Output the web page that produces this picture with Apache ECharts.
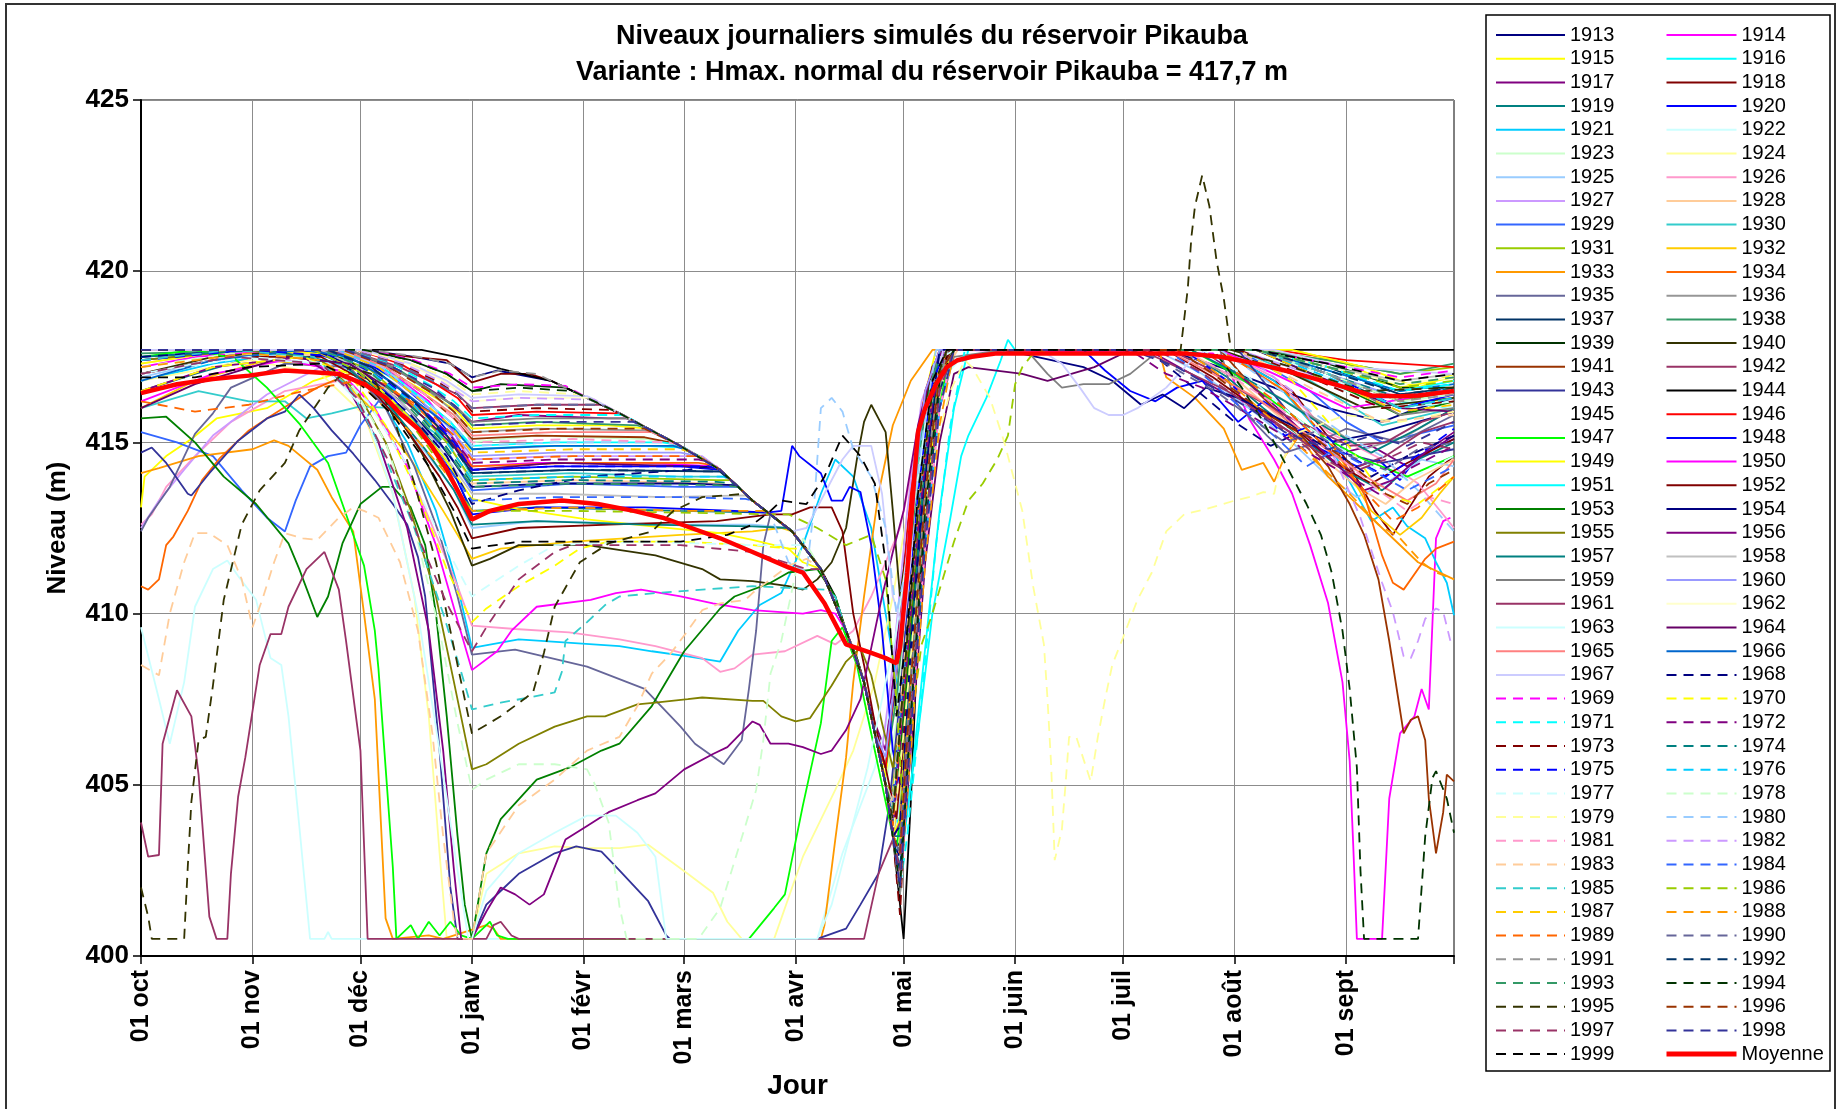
<!DOCTYPE html>
<html><head><meta charset="utf-8">
<script src="https://cdn.jsdelivr.net/npm/echarts@6/dist/echarts.min.js"></script>
<style>html,body{margin:0;padding:0;background:#fff}#c{width:1839px;height:1109px}</style>
</head><body><div id="c"></div>
<script>
// ---- tick labels / categories ----
const monthNames = ['oct','nov','déc','janv','févr','mars','avr','mai','juin','juil','août','sept'];
const monthDays = [31,30,31,31,28,31,30,31,30,31,31,30];
const yTicks = [400,405,410,415,420,425];
const yearNames = [];
for (let y = 1913; y <= 1999; y++) yearNames.push(String(y));

// ---- series values: [day index from 1 Oct, level (m)] ----
const y1913 = [[0,417.7],[62,417.7],[76,417.5],[86,417.3],[92,416.9],[99,417.1],[114,416.8],[133,415.85],[149,414.95],[161,414.2],[170,413.3],[181,412.4],[189,411.3],[196,409.5],[201,408.0],[204,406.5],[207,405.0],[209,403.8],[211,406.5],[214,411.5],[218,415.5],[222,417.7],[285,417.7],[300,417.2],[315,416.6],[330,416.0],[345,415.6],[355,416.0],[365,416.3]];
const y1914 = [[0,417.2],[15,417.5],[40,417.7],[58,417.6],[70,417.0],[80,416.2],[87,415.3],[92,414.3],[110,414.4],[140,414.4],[160,414.3],[161,414.2],[170,413.3],[181,412.4],[189,411.3],[196,409.5],[201,408.0],[204,406.5],[207,405.0],[209,404.2],[212,407.5],[215,412],[219,415.5],[224,417.7],[298,417.6],[303,417.0],[308,415.7],[315,414.5],[320,413.5],[325,412.0],[330,410.3],[334,408.0],[336,405.7],[337,403.2],[338,400.5],[345,400.5],[347,404.6],[350,406.5],[354,407.0],[356,407.8],[358,407.2],[360,412.2],[362,412.7],[364,412.8]];
const y1915 = [[0,413.1],[1,414.0],[7,414.6],[14,415.1],[21,415.7],[35,416.0],[48,416.8],[60,417.2],[72,416.9],[82,416.3],[88,415.9],[92,415.4],[110,415.5],[130,415.5],[141,415.4],[149,414.95],[161,414.2],[170,413.3],[181,412.4],[189,411.3],[196,409.5],[201,408.0],[204,406.5],[207,405.2],[210,408.0],[213,412.5],[217,416.0],[221,417.7],[320,417.7],[335,417.3],[350,416.6],[365,416.9]];
const y1916 = [[0,417.7],[50,417.7],[65,417.2],[78,416.3],[86,415.6],[92,414.8],[110,414.9],[140,414.9],[151,414.85],[161,414.2],[170,413.3],[181,412.4],[189,411.3],[196,409.5],[201,408.0],[204,406.5],[208,404.5],[212,403.5],[216,406.5],[220,410.0],[225,412.8],[228,414.6],[230,415.2],[235,416.3],[239,417.4],[241,418.0],[243,417.7],[310,417.7],[330,417.0],[350,416.2],[365,416.0]];
const y1917 = [[0,417.0],[20,417.4],[45,417.7],[62,417.5],[75,416.9],[84,416.3],[92,415.6],[105,415.8],[130,415.7],[135,415.7],[141,415.4],[149,414.95],[161,414.2],[170,413.3],[181,412.4],[189,411.3],[196,409.5],[201,408.0],[204,406.8],[207,406.0],[210,409],[214,413.5],[219,416.8],[224,417.7],[280,417.7],[292,417.0],[305,416.2],[318,415.4],[330,414.6],[342,414.9],[352,414.3],[365,415.2]];
const y1918 = [[0,417.7],[60,417.7],[75,417.5],[85,417.4],[92,416.75],[100,417.0],[108,417.0],[114,416.8],[133,415.85],[149,414.95],[161,414.2],[170,413.3],[181,412.4],[189,411.3],[196,409.5],[201,408.0],[204,406.5],[207,405.0],[209,403.5],[211,402.5],[214,408],[217,413],[221,417.0],[225,417.7],[300,417.7],[320,416.5],[335,414.5],[343,413.0],[348,412.3],[352,413.0],[358,414.0],[365,414.6]];
const y1919 = [[0,416.5],[15,417.0],[35,417.6],[55,417.3],[68,416.4],[78,415.4],[86,414.3],[92,413.0],[110,413.1],[150,413.0],[174,412.95],[181,412.4],[189,411.3],[196,409.5],[201,408.0],[204,406.5],[207,405.0],[209,404.5],[212,408.5],[216,413.5],[220,416.5],[224,417.7],[290,417.7],[302,416.9],[312,416.0],[322,415.2],[334,414.2],[345,413.6],[355,414.5],[365,415.0]];
const y1920 = [[0,417.5],[30,417.7],[58,417.6],[70,416.9],[80,416.0],[87,415.1],[92,414.2],[115,414.3],[150,414.3],[161,414.2],[170,413.3],[181,412.4],[189,411.3],[196,409.5],[201,408.0],[204,406.5],[207,405.5],[210,408.2],[213,412],[217,415.5],[222,417.7],[262,417.7],[268,417.1],[275,416.5],[282,416.2],[288,416.6],[295,416.8],[305,415.6],[312,416.2],[318,415.8],[324,415.0],[332,414.6],[338,414.3],[344,414.5],[350,413.9],[355,414.6],[365,415.1]];
const y1921 = [[0,416.8],[20,417.3],[40,417.6],[55,417.3],[65,416.5],[74,415.0],[82,413.0],[88,410.8],[92,409.0],[105,409.25],[133,409.05],[142,408.9],[152,408.75],[161,408.6],[166,409.5],[172,410.25],[178,410.6],[184,412.0],[189,413.5],[193,414.5],[198,414.0],[203,412.5],[207,410.0],[211,407.5],[214,411],[218,415],[223,417.7],[300,417.7],[315,416.8],[330,415.0],[342,412.7],[348,413.1],[352,412.55],[357,412.2],[360,411.5],[363,410.9],[365,409.95]];
const y1922 = [[0,409.6],[5,407.5],[8,406.2],[12,408.0],[15,410.2],[20,411.3],[24,411.55],[27,411.1],[32,410.4],[36,408.7],[39,408.5],[41,407.0],[44,403.8],[47,400.5],[51,400.5],[52,400.7],[53,400.5],[188,400.5],[195,403.0],[204,405.5],[209,407.5],[213,411.0],[218,414.5],[224,417.0],[230,417.7],[310,417.7],[335,416.5],[365,416.0]];
const y1923 = [[0,417.7],[55,417.7],[68,417.2],[79,416.4],[87,415.8],[92,415.0],[110,415.2],[140,415.1],[148,414.95],[155,414.6],[161,414.2],[170,413.3],[181,412.4],[189,411.3],[196,409.5],[201,408.0],[204,406.5],[207,405.0],[210,406.8],[214,411.5],[218,415.5],[223,417.7],[310,417.7],[330,417.2],[350,416.8],[365,417.0]];
const y1924 = [[0,416.8],[30,417.4],[50,417.0],[62,415.8],[70,413.5],[76,410.5],[80,407],[83,403],[85,400.5],[92,400.5],[96,402.4],[105,403.0],[115,403.2],[124,403.15],[133,403.15],[141,403.25],[152,402.4],[159,401.85],[163,401.0],[167,400.5],[176,400.5],[184,402.9],[193,404.85],[198,406.0],[204,408.0],[209,410.5],[214,413.5],[219,416.0],[225,417.7],[310,417.7],[330,416.8],[350,416.0],[365,416.3]];
const y1925 = [[0,416.9],[20,417.4],[45,417.6],[58,417.1],[70,415.9],[80,414.6],[87,413.6],[92,412.5],[110,412.7],[150,412.6],[170,412.6],[180,412.5],[185,411.9],[189,411.3],[196,409.5],[201,408.0],[204,406.5],[207,405.0],[209,403.5],[211,404.5],[214,409.5],[218,414.5],[223,417.7],[282,417.7],[295,417.0],[308,416.0],[320,415.0],[330,414.0],[338,413.4],[346,413.8],[356,414.5],[365,414.3]];
const y1926 = [[0,412.6],[3,412.9],[7,413.7],[15,414.6],[25,415.6],[40,416.5],[55,416.8],[65,415.9],[74,414.3],[82,412.3],[88,410.8],[92,409.65],[104,409.55],[119,409.45],[133,409.25],[143,409.05],[156,408.7],[161,408.3],[165,408.4],[170,408.8],[179,408.9],[188,409.35],[193,409.1],[198,409.5],[203,410.5],[207,411.5],[211,412.5],[215,414.5],[219,416.5],[224,417.7],[300,417.7],[315,416.9],[330,415.3],[345,414.5],[355,413.8],[365,412.5]];
const y1927 = [[0,412.5],[5,413.3],[12,414.2],[20,415.2],[35,416.4],[50,417.2],[62,417.3],[72,416.6],[82,415.6],[88,415.0],[92,414.5],[115,414.6],[150,414.6],[156,414.6],[161,414.2],[170,413.3],[181,412.4],[189,411.3],[196,409.5],[201,408.0],[204,406.5],[206,406.0],[209,408.5],[213,413],[217,416.2],[222,417.7],[305,417.7],[325,417.0],[345,416.3],[365,416.5]];
const y1928 = [[0,417.3],[25,417.7],[55,417.5],[67,416.7],[78,415.8],[86,414.9],[92,413.8],[120,413.9],[160,413.8],[166,413.7],[170,413.3],[181,412.4],[189,411.3],[196,409.5],[201,408.0],[204,406.5],[207,405.0],[209,403.5],[211,402.0],[214,408],[218,413.5],[223,417.0],[227,417.7],[290,417.7],[305,416.8],[318,415.6],[328,414.6],[338,413.7],[346,413.2],[354,413.9],[365,414.5]];
const y1929 = [[0,415.3],[10,415.0],[20,414.6],[28,413.6],[35,412.8],[40,412.4],[43,413.3],[47,414.3],[52,414.6],[57,414.7],[61,415.5],[66,416.2],[72,416.0],[80,415.3],[86,414.6],[92,413.6],[120,413.8],[150,413.7],[166,413.7],[170,413.3],[181,412.4],[189,411.3],[196,409.5],[201,408.0],[204,406.5],[207,405.0],[209,404.0],[212,407.5],[216,412.5],[220,416.0],[225,417.7],[305,417.7],[325,416.5],[335,415.6],[345,415.0],[365,415.5]];
const y1930 = [[0,416.0],[16,416.5],[30,416.2],[40,416.2],[46,415.7],[53,415.85],[61,416.05],[70,416.0],[80,415.4],[87,414.9],[92,414.0],[120,414.1],[150,414.0],[163,414.0],[166,413.7],[170,413.3],[181,412.4],[189,411.3],[196,409.5],[201,408.0],[204,406.5],[207,405.5],[210,408.5],[214,413],[218,416],[222,417.7],[305,417.7],[325,416.8],[345,415.5],[365,416.0]];
const y1931 = [[0,417.7],[50,417.7],[64,417.1],[76,416.0],[85,415.0],[92,413.9],[120,414.0],[160,413.9],[164,413.9],[166,413.7],[170,413.3],[181,412.4],[189,411.3],[196,409.5],[201,408.0],[204,406.5],[207,405.0],[209,404.8],[212,408.5],[216,413],[220,416.2],[224,417.7],[310,417.7],[330,417.4],[350,417.0],[365,417.2]];
const y1932 = [[0,416.0],[15,416.8],[35,417.4],[52,417.2],[64,416.0],[75,414.5],[84,413.0],[92,411.6],[100,411.9],[120,412.1],[150,412.3],[170,412.4],[178,412.5],[181,412.4],[189,411.3],[196,409.5],[201,408.0],[204,406.5],[207,405.0],[209,403.5],[211,405.0],[214,410],[218,414.5],[223,417.7],[300,417.7],[318,416.5],[332,414.8],[342,413.0],[350,412.3],[356,412.8],[361,413.5],[365,414.0]];
const y1933 = [[0,414.1],[5,414.25],[16,414.6],[31,414.8],[37,415.06],[41,414.9],[49,414.2],[53,413.4],[59,412.4],[62,410.0],[65,407.5],[68,401.1],[70,400.5],[80,400.6],[84,400.5],[96,400.9],[98,400.8],[100,400.5],[189,400.5],[190,400.9],[193,403.4],[196,405.8],[198,408.0],[201,410.5],[205,413.5],[209,415.5],[214,416.8],[220,417.7],[283,417.7],[285,416.9],[293,416.3],[301,415.4],[306,414.2],[312,414.4],[315,413.85],[318,414.6],[322,415.2],[330,414.0],[345,412.5],[355,411.5],[365,411.0]];
const y1934 = [[0,410.8],[2,410.7],[5,411.0],[7,412.0],[9,412.25],[13,413.0],[17,413.9],[22,414.55],[30,415.35],[35,415.7],[44,416.3],[49,416.6],[58,417.0],[68,416.7],[78,415.9],[86,415.1],[92,414.3],[120,414.4],[155,414.4],[158,414.35],[161,414.2],[170,413.3],[181,412.4],[189,411.3],[196,409.5],[201,408.0],[204,406.5],[207,405.0],[209,403.5],[211,403.0],[214,408],[218,413.5],[222,416.8],[226,417.7],[300,417.7],[318,416.5],[332,414.8],[340,413.5],[345,411.7],[348,410.9],[351,410.7],[357,411.6],[360,411.9],[365,412.1]];
const y1935 = [[0,412.4],[2,412.8],[8,413.7],[15,415.25],[20,415.85],[25,416.6],[40,417.3],[58,417.2],[68,416.0],[76,414.3],[83,412.3],[88,410.5],[92,408.8],[104,408.95],[124,408.45],[140,407.8],[150,406.7],[154,406.2],[162,405.6],[167,406.3],[169,407.8],[171,409.5],[173,412.0],[175,412.9],[181,412.4],[189,411.3],[196,409.5],[201,408.0],[204,406.5],[207,405.0],[209,404.0],[212,408],[216,413],[221,416.5],[226,417.7],[300,417.7],[304,416.2],[313,415.2],[318,414.7],[327,415.0],[335,415.4],[350,415.0],[365,415.8]];
const y1936 = [[0,417.7],[58,417.7],[70,417.2],[80,416.5],[87,415.9],[92,415.3],[110,415.4],[140,415.35],[142,415.3],[149,414.95],[161,414.2],[170,413.3],[181,412.4],[189,411.3],[196,409.5],[201,408.0],[204,406.5],[207,405.0],[209,403.5],[211,402.0],[213,406],[216,411.5],[220,415.5],[224,417.7],[288,417.7],[300,417.1],[315,416.4],[328,415.6],[340,414.8],[352,415.2],[365,416.0]];
const y1937 = [[0,417.7],[52,417.7],[64,417.2],[75,416.3],[85,415.2],[92,414.1],[120,414.2],[161,414.15],[166,413.7],[170,413.3],[181,412.4],[189,411.3],[196,409.5],[201,408.0],[204,406.5],[207,405.0],[209,403.5],[211,403.2],[214,408.5],[218,414],[222,417.2],[226,417.7],[310,417.7],[330,417.2],[350,416.4],[365,416.6]];
const y1938 = [[0,417.6],[40,417.7],[60,417.6],[72,417.1],[82,416.4],[88,416.0],[92,415.5],[110,415.6],[138,415.5],[141,415.4],[149,414.95],[161,414.2],[170,413.3],[181,412.4],[189,411.3],[196,409.5],[201,408.0],[204,406.5],[207,405.5],[210,407.5],[214,412],[218,416],[222,417.7],[310,417.7],[330,417.4],[350,417.0],[365,417.3]];
const y1939 = [[0,417.7],[62,417.7],[75,417.4],[85,417.0],[92,416.5],[100,416.7],[118,416.6],[125,416.25],[133,415.85],[149,414.95],[161,414.2],[170,413.3],[181,412.4],[189,411.3],[196,409.5],[201,408.0],[204,406.5],[207,405.0],[209,403.5],[211,401.8],[213,405.5],[216,411],[220,415.8],[224,417.7],[310,417.7],[330,417.3],[350,416.6],[365,416.6]];
const y1940 = [[0,417.0],[20,417.5],[45,417.7],[58,417.4],[68,416.3],[78,414.7],[86,413.0],[92,411.4],[97,411.6],[105,412.0],[124,412.0],[143,411.7],[156,411.3],[161,411.0],[170,410.95],[180,410.8],[184,410.7],[188,411.0],[192,411.5],[196,412.5],[199,414.5],[201,415.6],[203,416.1],[205,415.7],[207,415.3],[209,413.0],[211,410.5],[213,412],[216,415],[220,417.2],[223,417.7],[300,417.7],[320,417.0],[340,416.0],[365,416.3]];
const y1941 = [[0,417.7],[55,417.7],[68,417.2],[79,416.4],[87,415.7],[92,415.1],[110,415.2],[140,415.15],[147,415.0],[149,414.95],[161,414.2],[170,413.3],[181,412.4],[189,411.3],[196,409.5],[201,408.0],[204,406.5],[207,405.0],[209,403.5],[211,402.5],[214,407.5],[218,413.5],[222,417.0],[226,417.7],[300,417.7],[310,416.5],[320,415.5],[330,414.3],[336,413.2],[340,412.3],[344,411.0],[347,409.2],[351,406.5],[353,406.9],[355,407.0],[357,406.3],[358,404.6],[360,403.0],[362,404.2],[363,405.3],[365,405.1]];
const y1942 = [[0,417.4],[30,417.7],[60,417.6],[72,417.2],[82,416.7],[88,416.4],[92,416.0],[110,416.1],[128,416.1],[130,416.0],[133,415.85],[141,415.4],[149,414.95],[161,414.2],[170,413.3],[181,412.4],[189,411.3],[196,409.5],[201,408.0],[204,406.5],[207,405.0],[209,404.0],[212,407.5],[216,413],[220,416.5],[224,417.7],[278,417.7],[290,417.1],[302,416.5],[314,415.7],[326,414.8],[336,414.2],[346,414.6],[356,415.3],[365,415.6]];
const y1943 = [[0,414.7],[3,414.85],[7,414.4],[13,413.5],[14,413.45],[19,414.1],[27,415.05],[35,415.7],[40,415.9],[44,416.4],[48,416.0],[53,415.35],[59,414.67],[65,413.9],[70,413.2],[74,412.6],[77,411.65],[79,410.5],[83,406.0],[86,402.0],[88,400.5],[92,400.5],[96,401.5],[101,402.0],[105,402.4],[115,403.0],[121,403.2],[128,403.05],[133,402.5],[141,401.6],[146,400.6],[147,400.5],[188,400.5],[196,400.8],[200,401.5],[205,402.4],[208,404.4],[211,407.5],[214,411.5],[218,415],[223,417.7],[305,417.7],[318,416.0],[330,414.8],[345,414.4],[365,414.8]];
const y1944 = [[0,417.7],[78,417.7],[90,417.45],[100,417.15],[114,416.8],[125,416.25],[133,415.85],[141,415.4],[149,414.95],[155,414.6],[161,414.2],[166,413.7],[170,413.3],[175,412.9],[181,412.4],[185,411.9],[189,411.3],[193,410.5],[196,409.5],[199,408.7],[201,408.0],[204,406.5],[207,405.0],[209,403.5],[211,401.5],[212,400.5],[214,404.5],[216,409.5],[219,414.5],[222,417.0],[225,417.7],[365,417.7]];
const y1945 = [];
const y1946 = [[0,417.7],[60,417.7],[72,417.3],[82,416.7],[88,416.3],[92,415.8],[110,415.9],[132,415.85],[134,415.8],[141,415.4],[149,414.95],[161,414.2],[170,413.3],[181,412.4],[189,411.3],[196,409.5],[201,408.0],[204,406.5],[207,405.5],[210,408.5],[214,413.5],[218,416.5],[222,417.7],[315,417.7],[335,417.4],[365,417.2]];
const y1947 = [[0,417.5],[15,417.7],[26,417.45],[35,416.6],[44,415.55],[52,414.4],[58,412.6],[62,411.4],[65,409.5],[66,408.4],[68,405.5],[70,402.6],[71,400.5],[75,400.9],[77,400.5],[80,401.0],[83,400.6],[86,401.0],[89,400.6],[92,400.5],[95,400.8],[97,401.0],[99,400.6],[102,400.5],[169,400.5],[176,401.4],[179,401.8],[184,404.4],[189,406.8],[192,409.2],[195,409.6],[199,408.5],[203,406.5],[207,404.5],[210,403.0],[213,406.5],[217,411.5],[221,415.5],[225,417.7],[292,417.7],[304,417.0],[316,416.1],[328,415.2],[340,414.5],[352,414.0],[365,414.6]];
const y1948 = [[0,417.7],[45,417.7],[58,417.3],[70,416.3],[81,414.9],[88,413.9],[92,412.9],[110,413.1],[140,413.1],[165,413.0],[174,412.95],[178,413.0],[181,414.9],[183,414.6],[189,414.1],[192,413.3],[195,413.3],[197,413.7],[200,413.55],[203,412.0],[206,409.5],[209,406.0],[211,405.0],[214,409.5],[218,414],[222,417.0],[226,417.7],[310,417.7],[330,417.0],[350,416.0],[365,416.4]];
const y1949 = [[0,417.3],[25,417.7],[50,417.6],[62,417.0],[74,415.8],[84,414.6],[92,413.35],[105,413.05],[124,412.75],[142,412.55],[161,412.35],[170,412.15],[180,411.9],[184,411.5],[189,411.3],[196,409.5],[201,408.0],[204,406.5],[207,405.0],[209,403.5],[211,404.0],[214,409.5],[218,414.5],[222,417.7],[320,417.7],[340,417.2],[355,416.6],[365,417.0]];
const y1950 = [[0,416.2],[20,417.0],[40,417.4],[55,417.1],[65,416.0],[74,414.3],[82,412.0],[88,409.8],[92,408.35],[99,408.9],[103,409.5],[110,410.2],[125,410.4],[132,410.6],[139,410.7],[150,410.5],[159,410.3],[170,410.1],[184,410.0],[189,410.1],[193,410.0],[196,409.5],[199,408.7],[201,408.0],[204,406.5],[207,405.0],[209,404.2],[212,407.5],[215,411.5],[219,415.5],[223,417.7],[300,417.7],[315,417.0],[335,416.0],[365,416.5]];
const y1951 = [[0,417.7],[55,417.7],[67,417.2],[78,416.3],[86,415.6],[92,414.9],[115,415.0],[145,415.0],[148,414.95],[155,414.6],[161,414.2],[170,413.3],[181,412.4],[189,411.3],[196,409.5],[201,408.0],[204,406.5],[207,405.0],[209,403.5],[211,402.5],[214,405],[218,409],[222,413],[226,416],[230,417.7],[310,417.7],[330,417.1],[350,416.5],[365,416.8]];
const y1952 = [[0,417.0],[25,417.5],[50,417.5],[62,416.8],[73,415.5],[83,414.0],[88,413.1],[92,412.2],[105,412.5],[130,412.6],[160,412.7],[175,412.9],[181,412.9],[186,413.1],[192,413.1],[195,412.4],[198,410.0],[201,408.5],[204,406.8],[207,405.5],[210,404.0],[213,407.5],[217,412.5],[221,416.5],[225,417.7],[285,417.7],[298,416.9],[310,416.0],[322,415.3],[332,414.4],[342,413.8],[352,414.4],[365,415.1]];
const y1953 = [[0,415.7],[7,415.75],[15,415.0],[23,414.0],[32,413.2],[41,412.05],[44,411.3],[49,409.9],[52,410.5],[56,412.05],[61,413.2],[67,413.7],[70,413.7],[75,413.1],[79,412.0],[82,410.0],[85,407.0],[88,403.5],[90,401.5],[92,400.5],[96,403.0],[100,404.0],[110,405.15],[119,405.5],[128,406.0],[133,406.2],[142,407.3],[151,408.9],[161,410.15],[165,410.5],[175,410.9],[180,411.2],[188,411.3],[193,410.5],[196,409.5],[199,408.7],[201,408.0],[204,406.5],[207,405.0],[209,404.0],[212,407],[216,412],[220,416],[224,417.7],[310,417.7],[330,416.8],[350,415.8],[365,416.2]];
const y1954 = [[0,417.7],[48,417.7],[60,417.2],[72,416.2],[83,415.0],[92,413.7],[115,413.8],[150,413.8],[165,413.75],[166,413.7],[170,413.3],[181,412.4],[189,411.3],[196,409.5],[201,408.0],[204,406.5],[207,405.0],[209,403.5],[211,402.8],[214,408.5],[218,414],[222,417.7],[240,417.7],[262,417.2],[270,416.8],[278,416.1],[284,416.4],[290,416.0],[296,416.6],[305,416.3],[318,415.6],[330,415.0],[345,415.3],[365,415.9]];
const y1955 = [[0,417.4],[30,417.7],[50,417.4],[60,416.5],[68,415.0],[75,413.0],[82,410.5],[87,408.0],[92,405.45],[96,405.6],[105,406.2],[115,406.7],[124,407.0],[129,407.0],[138,407.35],[143,407.4],[152,407.5],[156,407.55],[170,407.45],[173,407.45],[178,407.0],[182,406.85],[186,406.95],[192,407.9],[196,408.6],[200,409.0],[203,408.2],[206,406.8],[209,405.5],[212,407.5],[216,412.5],[220,416.5],[224,417.7],[310,417.7],[330,417.0],[350,416.2],[365,416.5]];
const y1956 = [[0,416.5],[20,417.2],[45,417.5],[57,416.7],[66,415.0],[74,412.5],[80,409.5],[84,406.0],[87,402.5],[89,400.5],[92,400.5],[96,401.3],[100,402.0],[104,401.8],[108,401.5],[112,401.8],[118,403.4],[124,403.8],[130,404.2],[138,404.55],[143,404.75],[151,405.45],[159,405.9],[163,406.1],[170,406.85],[172,406.75],[175,406.2],[180,406.2],[184,406.1],[189,405.9],[192,406.0],[196,406.6],[200,407.5],[203,409.0],[206,410.5],[209,411.8],[212,413.0],[216,415.5],[220,417.2],[223,417.7],[295,417.7],[306,416.9],[316,416.0],[326,415.0],[334,414.2],[340,413.6],[348,413.9],[358,414.8],[365,415.3]];
const y1957 = [[0,417.5],[35,417.7],[56,417.3],[68,416.2],[79,414.8],[87,413.6],[92,412.6],[110,412.7],[140,412.6],[170,412.55],[180,412.5],[181,412.4],[189,411.3],[196,409.5],[201,408.0],[204,406.5],[207,405.0],[209,403.5],[211,403.5],[214,409],[218,414.5],[222,417.7],[292,417.7],[305,417.0],[318,416.2],[330,415.4],[342,414.7],[355,415.4],[365,416.0]];
const y1958 = [[0,417.7],[50,417.7],[62,417.1],[74,416.0],[84,414.7],[92,413.5],[115,413.5],[145,413.4],[168,413.45],[170,413.3],[181,412.4],[189,411.3],[196,409.5],[201,408.0],[204,406.5],[207,405.0],[209,404.3],[212,408],[216,413],[220,416.5],[224,417.7],[310,417.7],[330,417.2],[350,416.8],[365,417.0]];
const y1959 = [[0,417.7],[58,417.7],[70,417.2],[80,416.5],[87,416.1],[92,415.6],[110,415.7],[135,415.7],[137,415.6],[141,415.4],[149,414.95],[161,414.2],[170,413.3],[181,412.4],[189,411.3],[196,409.5],[201,408.0],[204,406.5],[207,405.0],[209,403.5],[211,402.2],[214,407],[218,412.5],[222,416],[226,417.5],[240,417.7],[247,417.6],[252,417.0],[256,416.6],[262,416.7],[269,416.7],[275,417.0],[282,417.6],[285,417.7],[310,417.7],[330,417.0],[350,415.8],[365,416.0]];
const y1960 = [[0,417.7],[54,417.7],[66,417.2],[77,416.3],[86,415.4],[92,414.6],[115,414.7],[150,414.7],[155,414.6],[161,414.2],[170,413.3],[181,412.4],[189,411.3],[196,409.5],[201,408.0],[204,406.5],[207,405.8],[210,408.5],[214,413],[218,416.5],[222,417.7],[310,417.7],[330,417.0],[350,416.3],[365,416.6]];
const y1961 = [[0,403.9],[2,402.9],[5,402.95],[6,406.2],[10,407.76],[14,407.0],[16,405.3],[19,401.15],[21,400.5],[24,400.5],[25,402.4],[27,404.65],[29,405.8],[33,408.5],[36,409.4],[39,409.4],[41,410.2],[46,411.3],[51,411.8],[55,410.7],[57,409.2],[61,406.0],[63,400.5],[96,400.5],[98,400.9],[100,401.0],[103,400.6],[105,400.5],[201,400.5],[205,402.4],[211,403.9],[214,408],[218,413.5],[222,417.0],[226,417.7],[286,417.7],[296,417.2],[306,416.5],[316,415.9],[326,415.4],[336,414.9],[346,415.0],[356,415.6],[365,415.9]];
const y1962 = [[0,417.7],[60,417.7],[74,417.3],[84,416.8],[92,416.2],[105,416.3],[125,416.3],[127,416.2],[133,415.85],[141,415.4],[149,414.95],[161,414.2],[170,413.3],[181,412.4],[189,411.3],[196,409.5],[201,408.0],[204,406.5],[207,405.0],[209,404.5],[212,408],[216,413],[220,416.5],[224,417.7],[310,417.7],[330,417.2],[350,416.7],[365,416.9]];
const y1963 = [[0,417.0],[25,417.5],[50,417.3],[62,416.0],[70,413.5],[77,410.0],[83,406.0],[88,402.5],[91,400.5],[92,400.5],[96,401.9],[105,403.0],[115,403.6],[124,404.1],[132,404.1],[138,403.6],[143,402.9],[146,400.5],[188,400.5],[192,401.5],[197,403.5],[202,405.5],[206,407.5],[210,409.5],[214,412.5],[218,415.5],[223,417.5],[226,417.7],[310,417.7],[330,416.9],[350,416.0],[365,416.2]];
const y1964 = [[0,416.0],[15,416.7],[40,417.5],[58,417.3],[70,416.5],[80,415.6],[87,414.9],[92,414.2],[115,414.4],[155,414.3],[160,414.25],[161,414.2],[170,413.3],[181,412.4],[189,411.3],[196,409.5],[201,408.0],[204,406.5],[207,405.0],[209,403.5],[211,402.0],[214,406],[218,411.5],[222,415],[226,417],[230,417.2],[245,417.0],[252,416.8],[265,417.2],[275,417.7],[310,417.7],[330,416.8],[350,416.0],[365,415.9]];
const y1965 = [[0,417.7],[56,417.7],[68,417.2],[79,416.4],[87,415.8],[92,415.2],[115,415.3],[142,415.3],[144,415.2],[149,414.95],[161,414.2],[170,413.3],[181,412.4],[189,411.3],[196,409.5],[201,408.0],[204,406.5],[207,405.0],[209,403.5],[211,403.0],[214,408],[218,413.5],[222,417.0],[226,417.7],[285,417.7],[298,417.0],[310,416.3],[322,415.4],[332,414.6],[342,413.9],[352,413.3],[360,413.8],[365,414.5]];
const y1966 = [[0,416.8],[20,417.4],[45,417.7],[58,417.5],[69,416.8],[79,416.0],[87,415.4],[92,414.8],[115,414.9],[148,414.9],[151,414.8],[155,414.6],[161,414.2],[170,413.3],[181,412.4],[189,411.3],[196,409.5],[201,408.0],[204,406.5],[207,405.0],[209,404.0],[212,408],[216,413],[220,416.5],[224,417.7],[310,417.7],[330,417.1],[350,416.5],[365,416.7]];
const y1967 = [[0,417.7],[62,417.7],[75,417.3],[85,416.8],[92,416.3],[105,416.4],[124,416.35],[126,416.25],[133,415.85],[141,415.4],[149,414.95],[161,414.2],[170,413.3],[181,412.4],[185,412.5],[190,413.5],[195,414.5],[198,414.9],[203,414.9],[206,413.5],[209,410.5],[212,409.5],[215,412.5],[219,416],[223,417.7],[250,417.7],[256,417.3],[261,416.6],[265,416.0],[269,415.8],[273,415.8],[277,416.0],[285,416.6],[292,417.4],[296,417.7],[315,417.7],[335,417.2],[365,417.0]];
const y1968 = [[0,417.5],[30,417.7],[52,417.5],[64,416.8],[75,415.8],[85,414.6],[92,413.2],[105,413.6],[124,414.0],[152,414.2],[158,414.3],[161,414.2],[170,413.3],[181,412.4],[189,411.3],[196,409.5],[201,408.0],[204,406.5],[207,405.0],[209,403.5],[211,403.8],[214,409],[218,414.5],[222,417.7],[280,417.7],[288,417.0],[296,416.3],[304,415.6],[314,414.9],[322,415.3],[332,414.7],[342,414.0],[352,414.6],[365,415.2]];
const y1969 = [[0,417.7],[64,417.7],[76,417.4],[86,417.0],[92,416.6],[105,416.7],[118,416.65],[125,416.25],[133,415.85],[141,415.4],[149,414.95],[161,414.2],[170,413.3],[181,412.4],[189,411.3],[196,409.5],[201,408.0],[204,406.5],[207,405.0],[209,403.5],[211,402.0],[214,406.5],[218,412],[222,416],[226,417.7],[310,417.7],[330,417.3],[350,416.9],[365,417.1]];
const y1970 = [[0,416.5],[20,417.2],[45,417.5],[58,417.0],[68,415.5],[77,413.5],[85,411.3],[92,409.75],[96,410.15],[105,410.8],[115,411.4],[122,411.9],[130,412.1],[150,412.1],[170,412.0],[180,411.9],[185,411.9],[189,411.3],[196,409.5],[201,408.0],[204,406.5],[207,405.0],[209,403.5],[211,402.5],[214,407.5],[218,413],[222,416.8],[226,417.7],[305,417.7],[320,416.8],[335,415.0],[345,413.5],[355,413.2],[365,414.0]];
const y1971 = [[0,417.7],[58,417.7],[70,417.3],[80,416.7],[87,416.2],[92,415.7],[110,415.8],[134,415.8],[136,415.7],[141,415.4],[149,414.95],[161,414.2],[170,413.3],[181,412.4],[189,411.3],[196,409.5],[201,408.0],[204,406.5],[207,405.0],[209,403.5],[211,402.0],[213,403.5],[217,407.5],[221,412.0],[225,415.5],[229,417.7],[310,417.7],[330,417.2],[350,416.5],[365,416.7]];
const y1972 = [[0,417.7],[52,417.7],[64,417.2],[76,416.2],[86,415.2],[92,414.4],[115,414.5],[155,414.5],[157,414.45],[161,414.2],[170,413.3],[181,412.4],[189,411.3],[196,409.5],[201,408.0],[204,406.5],[207,405.0],[209,403.6],[212,407.5],[216,412.5],[220,416.2],[224,417.7],[275,417.7],[285,417.0],[295,416.6],[305,416.0],[316,415.3],[326,414.6],[336,414.0],[344,413.5],[352,414.2],[365,414.9]];
const y1973 = [[0,417.7],[60,417.7],[72,417.3],[82,416.8],[88,416.4],[92,415.9],[110,416.0],[131,415.95],[133,415.85],[141,415.4],[149,414.95],[161,414.2],[170,413.3],[181,412.4],[189,411.3],[196,409.5],[201,408.0],[204,406.5],[207,405.0],[209,403.5],[211,401.2],[213,405.5],[216,411],[220,415.5],[224,417.7],[305,417.7],[325,416.9],[345,416.0],[365,416.2]];
const y1974 = [[0,417.7],[50,417.7],[62,417.2],[74,416.2],[84,415.0],[92,413.8],[120,413.9],[160,413.85],[165,413.8],[166,413.7],[170,413.3],[181,412.4],[189,411.3],[196,409.5],[201,408.0],[204,406.5],[207,405.0],[209,403.5],[211,403.0],[214,408],[218,413.5],[222,417.0],[226,417.7],[310,417.7],[330,417.0],[350,416.3],[365,416.6]];
const y1975 = [[0,417.4],[30,417.7],[56,417.5],[68,416.8],[79,415.9],[87,415.0],[92,414.2],[115,414.3],[158,414.3],[161,414.2],[170,413.3],[181,412.4],[189,411.3],[196,409.5],[201,408.0],[204,406.5],[207,405.0],[209,404.5],[212,408.5],[216,413.5],[220,416.8],[224,417.7],[290,417.7],[302,416.8],[312,415.8],[318,415.2],[326,415.5],[336,414.6],[346,414.0],[356,414.7],[365,415.4]];
const y1976 = [[0,417.7],[50,417.7],[62,417.2],[75,416.2],[85,415.0],[92,413.9],[120,414.0],[162,414.0],[164,413.9],[166,413.7],[170,413.3],[181,412.4],[189,411.3],[196,409.5],[201,408.0],[204,406.5],[207,405.0],[209,403.5],[211,402.5],[214,406.5],[218,412],[222,416],[226,417.7],[310,417.7],[330,416.9],[350,416.0],[365,416.3]];
const y1977 = [[0,417.0],[30,417.5],[52,417.3],[63,416.2],[73,414.5],[82,412.5],[88,411.3],[92,410.5],[105,411.4],[115,412.0],[140,412.1],[170,412.0],[184,412.0],[185,411.9],[189,411.3],[196,409.5],[201,408.0],[204,406.5],[207,405.0],[209,403.5],[211,402.8],[214,407.5],[218,413],[222,416.8],[226,417.7],[295,417.7],[308,416.9],[320,415.8],[332,414.9],[342,414.3],[352,413.9],[365,414.6]];
const y1978 = [[0,417.2],[25,417.6],[45,417.5],[58,416.8],[68,415.0],[76,412.5],[83,409.5],[88,406.8],[92,404.85],[96,405.15],[105,405.6],[115,405.6],[124,405.45],[126,405.05],[130,403.9],[133,401.45],[135,400.5],[155,400.5],[161,401.4],[168,403.8],[171,404.85],[173,406.3],[175,408.25],[178,409.2],[181,410.7],[184,412.2],[189,411.3],[196,409.5],[201,408.0],[204,406.5],[207,405.0],[209,404.0],[212,408],[216,413],[220,416.5],[224,417.7],[310,417.7],[330,417.0],[350,416.2],[365,416.4]];
const y1979 = [[0,417.7],[62,417.7],[75,417.3],[85,416.9],[92,416.4],[105,416.5],[122,416.4],[125,416.25],[133,415.85],[141,415.4],[149,414.95],[161,414.2],[170,413.3],[181,412.4],[189,411.3],[196,409.5],[201,408.0],[204,406.5],[207,405.0],[209,403.5],[212,406.5],[216,411],[220,414.5],[225,416.5],[229,417.4],[231,417.2],[236,416.3],[240,415.0],[245,413.0],[248,410.8],[251,409.1],[252,407.5],[253,405.6],[254,402.8],[256,403.7],[257,405.0],[258,406.4],[260,406.4],[264,405.1],[266,406.4],[268,407.5],[270,408.5],[273,409.3],[277,410.4],[281,411.2],[285,412.4],[290,412.9],[296,413.05],[304,413.3],[308,413.4],[312,413.55],[315,413.5],[316,414.0],[318,414.6],[322,415.3],[335,415.8],[350,415.6],[365,415.9]];
const y1980 = [[0,417.7],[55,417.7],[67,417.2],[78,416.3],[86,415.6],[92,414.9],[115,415.0],[145,415.0],[149,414.95],[155,414.6],[161,414.2],[170,413.3],[175,412.9],[180,411.5],[185,411.2],[187,413.0],[189,416.0],[192,416.3],[195,415.9],[198,414.8],[203,414.0],[207,412.5],[210,410.0],[213,411.5],[217,415.0],[221,417.7],[300,417.7],[320,416.3],[335,415.2],[345,414.6],[355,413.6],[360,413.0],[365,412.4]];
const y1981 = [[0,417.7],[56,417.7],[68,417.2],[79,416.4],[87,415.7],[92,415.0],[120,415.1],[146,415.0],[149,414.95],[155,414.6],[161,414.2],[170,413.3],[181,412.4],[189,411.3],[196,409.5],[201,408.0],[204,406.5],[207,405.0],[209,403.5],[211,402.0],[214,406.5],[218,412],[222,416],[226,417.7],[290,417.7],[302,417.0],[314,416.2],[324,415.4],[334,414.5],[344,413.6],[352,413.0],[358,413.4],[365,413.2]];
const y1982 = [[0,417.7],[60,417.7],[73,417.3],[83,416.8],[92,416.2],[105,416.3],[126,416.25],[133,415.85],[141,415.4],[149,414.95],[161,414.2],[170,413.3],[181,412.4],[189,411.3],[196,409.5],[201,408.0],[204,406.5],[207,405.0],[209,404.0],[212,408],[216,413],[220,416.5],[224,417.7],[305,417.7],[320,416.5],[332,414.5],[339,412.8],[345,410.9],[348,410.05],[351,408.75],[353,408.7],[355,409.2],[357,409.85],[360,410.15],[362,410.05],[364,409.2]];
const y1983 = [[0,408.5],[5,408.2],[8,410.0],[12,411.5],[15,412.35],[19,412.35],[24,412.0],[28,411.0],[31,409.6],[34,410.5],[37,411.5],[40,412.35],[45,412.2],[49,412.15],[55,412.8],[59,413.1],[62,413.0],[66,412.8],[72,411.5],[77,409.5],[81,406.5],[84,403.5],[87,401.0],[88,400.5],[92,400.5],[96,403.0],[105,404.4],[115,405.15],[124,406.0],[133,406.4],[138,407.3],[142,408.25],[147,408.8],[152,409.5],[156,410.1],[161,410.3],[168,410.4],[170,410.6],[175,411.0],[180,411.4],[185,411.6],[189,411.3],[196,409.5],[201,408.0],[204,406.5],[207,405.0],[209,404.5],[212,408.5],[216,413],[220,416.5],[224,417.7],[305,417.7],[325,416.6],[345,415.6],[365,415.8]];
const y1984 = [[0,417.7],[48,417.7],[60,417.1],[72,416.0],[83,414.6],[92,413.3],[115,413.4],[150,413.4],[168,413.35],[170,413.3],[181,412.4],[189,411.3],[196,409.5],[201,408.0],[204,406.5],[207,405.0],[209,403.5],[211,402.5],[214,407],[218,412.5],[222,416.5],[226,417.7],[285,417.7],[296,416.9],[306,416.0],[316,415.1],[324,414.3],[332,414.8],[342,414.2],[352,413.6],[365,414.3]];
const y1985 = [[0,417.4],[25,417.7],[48,417.5],[58,416.6],[67,414.8],[76,412.5],[84,410.0],[89,408.3],[92,407.2],[100,407.4],[108,407.55],[115,407.7],[117,408.3],[118,409.2],[124,409.75],[129,410.25],[133,410.5],[143,410.6],[156,410.7],[170,410.8],[180,410.75],[190,410.7],[193,410.5],[196,409.5],[201,408.0],[204,406.5],[207,405.0],[209,403.5],[211,402.5],[214,407],[218,412.5],[222,416.5],[226,417.7],[310,417.7],[330,417.0],[350,416.0],[365,416.3]];
const y1986 = [[0,417.7],[48,417.7],[60,417.1],[72,416.0],[83,414.4],[92,413.0],[120,413.0],[150,412.95],[175,412.9],[180,412.9],[188,412.5],[196,412.0],[203,412.3],[207,411.0],[210,407.5],[212,404.0],[215,407.5],[217,409.1],[220,410.0],[226,412.1],[230,413.3],[234,413.8],[238,414.5],[241,415.2],[243,416.7],[245,417.2],[248,417.6],[252,417.7],[310,417.7],[330,417.2],[350,416.6],[365,416.8]];
const y1987 = [[0,417.7],[54,417.7],[66,417.2],[77,416.3],[86,415.5],[92,414.7],[120,414.8],[150,414.8],[152,414.75],[155,414.6],[161,414.2],[170,413.3],[181,412.4],[189,411.3],[196,409.5],[201,408.0],[204,406.5],[207,405.0],[209,403.5],[211,403.2],[214,408],[218,413.5],[222,417.0],[226,417.7],[310,417.7],[330,416.8],[350,415.9],[365,416.1]];
const y1988 = [[0,417.2],[30,417.6],[50,417.4],[62,416.6],[74,415.4],[84,414.2],[92,413.0],[120,413.1],[150,413.0],[173,413.0],[175,412.9],[181,412.4],[189,411.3],[196,409.5],[201,408.0],[204,406.5],[207,405.0],[209,403.5],[211,402.0],[214,406],[218,411.5],[222,415.5],[226,417.7],[290,417.7],[302,416.8],[314,415.7],[326,414.5],[336,413.5],[344,412.6],[350,412.2],[356,411.5],[360,411.2],[365,411.0]];
const y1989 = [[0,416.2],[15,415.9],[30,416.1],[45,416.5],[60,416.8],[70,416.5],[80,415.9],[87,415.2],[92,414.5],[120,414.6],[150,414.6],[155,414.6],[161,414.2],[170,413.3],[181,412.4],[189,411.3],[196,409.5],[201,408.0],[204,406.5],[207,405.0],[209,403.8],[212,408],[216,413],[220,416.5],[224,417.7],[295,417.7],[305,417.0],[318,416.0],[330,414.8],[340,413.6],[348,412.7],[355,413.1],[365,414.0]];
const y1990 = [[0,417.7],[58,417.7],[71,417.3],[81,416.8],[88,416.4],[92,416.0],[110,416.1],[128,416.1],[130,416.0],[133,415.85],[141,415.4],[149,414.95],[161,414.2],[170,413.3],[181,412.4],[189,411.3],[196,409.5],[201,408.0],[204,406.5],[207,405.0],[209,403.5],[211,403.0],[214,408],[218,413.5],[222,417.0],[226,417.7],[278,417.7],[290,417.0],[300,416.4],[310,415.6],[318,415.0],[326,415.3],[336,414.6],[346,414.2],[355,414.8],[365,415.0]];
const y1991 = [[0,417.7],[64,417.7],[77,417.5],[86,417.3],[92,416.9],[100,417.1],[110,417.0],[114,416.8],[125,416.25],[133,415.85],[141,415.4],[149,414.95],[161,414.2],[170,413.3],[181,412.4],[189,411.3],[196,409.5],[201,408.0],[204,406.5],[207,405.0],[209,403.5],[211,401.8],[213,405.5],[216,411],[220,415.5],[224,417.7],[310,417.7],[330,417.0],[350,416.2],[365,416.4]];
const y1992 = [[0,417.7],[52,417.7],[64,417.2],[76,416.2],[85,415.1],[92,414.1],[120,414.2],[161,414.15],[166,413.7],[170,413.3],[181,412.4],[189,411.3],[196,409.5],[201,408.0],[204,406.5],[207,405.0],[209,403.5],[211,402.5],[214,407],[218,412.5],[222,416.5],[226,417.7],[310,417.7],[330,417.1],[350,416.4],[365,416.6]];
const y1993 = [[0,417.7],[50,417.7],[62,417.2],[74,416.1],[84,414.9],[92,413.7],[120,413.8],[160,413.75],[166,413.7],[170,413.3],[181,412.4],[189,411.3],[196,409.5],[201,408.0],[204,406.5],[207,405.0],[209,404.3],[212,408],[216,413],[220,416.5],[224,417.7],[310,417.7],[330,417.2],[350,416.7],[365,416.9]];
const y1994 = [[0,417.7],[62,417.7],[75,417.4],[85,417.0],[92,416.5],[105,416.6],[120,416.5],[125,416.25],[133,415.85],[141,415.4],[149,414.95],[161,414.2],[170,413.3],[181,412.4],[189,411.3],[196,409.5],[201,408.0],[204,406.5],[207,405.0],[209,403.5],[211,402.0],[214,407],[218,413],[222,416.8],[226,417.7],[298,417.7],[301,417.3],[306,416.6],[312,415.6],[318,414.4],[324,413.2],[328,412.3],[331,411.2],[334,409.5],[336,407.8],[338,405.5],[339,402.5],[340,400.5],[355,400.5],[357,403.5],[359,405.2],[360,405.4],[363,404.6],[365,403.6]];
const y1995 = [[0,402.0],[2,401.15],[3,400.5],[12,400.5],[13,402.6],[14,404.5],[16,406.3],[18,406.4],[20,407.9],[23,410.4],[28,412.6],[33,413.6],[40,414.4],[44,415.35],[52,416.6],[58,417.2],[64,417.0],[70,415.8],[76,413.8],[82,411.5],[87,409.0],[92,406.5],[100,407.0],[109,407.7],[112,408.85],[115,410.2],[122,411.5],[130,412.05],[142,412.4],[148,413.0],[156,413.4],[168,413.5],[170,413.3],[181,412.4],[189,411.3],[196,409.5],[201,408.0],[204,406.5],[207,405.0],[209,404.0],[212,408],[216,413],[220,416.5],[224,417.7],[289,417.7],[291,419.5],[292,421.0],[293,421.9],[295,422.8],[297,421.9],[299,420.3],[301,419.2],[303,417.7],[320,417.2],[340,416.5],[365,416.6]];
const y1996 = [[0,417.7],[56,417.7],[69,417.2],[80,416.5],[87,415.9],[92,415.3],[115,415.4],[140,415.4],[142,415.3],[149,414.95],[161,414.2],[170,413.3],[181,412.4],[189,411.3],[196,409.5],[201,408.0],[204,406.5],[207,405.0],[209,403.5],[211,403.0],[214,408],[218,413.5],[222,417.0],[226,417.7],[288,417.7],[298,417.0],[308,416.2],[318,415.5],[328,415.0],[336,414.4],[346,413.5],[352,413.2],[358,413.8],[365,414.2]];
const y1997 = [[0,417.0],[25,417.5],[50,417.3],[60,416.3],[70,414.2],[78,412.0],[85,410.3],[92,408.9],[96,409.6],[105,411.0],[115,411.8],[120,412.0],[150,412.0],[170,411.8],[185,411.3],[189,411.3],[196,409.5],[201,408.0],[204,406.5],[207,405.0],[209,403.5],[211,402.5],[214,407],[218,412.5],[222,416.5],[226,417.7],[282,417.7],[294,417.1],[305,416.3],[316,415.5],[326,414.7],[336,414.1],[346,414.5],[356,415.0],[365,414.8]];
const y1998 = [[0,417.7],[57,417.7],[70,417.2],[81,416.6],[88,416.0],[92,415.5],[115,415.6],[137,415.6],[139,415.5],[141,415.4],[149,414.95],[161,414.2],[170,413.3],[181,412.4],[189,411.3],[196,409.5],[201,408.0],[204,406.5],[207,405.0],[209,403.5],[211,402.0],[214,406.5],[218,412],[222,416],[226,417.7],[275,417.7],[288,417.2],[298,416.6],[308,416.0],[318,415.3],[330,414.8],[342,415.2],[352,414.9],[365,415.6]];
const y1999 = [[0,416.9],[15,416.9],[30,417.2],[50,417.3],[60,416.8],[70,415.8],[80,414.3],[87,413.0],[92,411.9],[105,412.1],[124,412.1],[150,412.1],[163,412.3],[170,412.6],[175,413.0],[178,413.3],[185,413.2],[190,414.0],[195,415.2],[200,414.6],[204,413.8],[207,411.5],[210,407.0],[213,409.5],[216,413.5],[220,416.8],[224,417.7],[310,417.7],[330,417.3],[350,416.8],[365,417.0]];
const moyenne = [[0,416.44],[10,416.7],[20,416.85],[30,416.95],[40,417.1],[48,417.05],[55,417.0],[62,416.7],[68,416.3],[72,415.85],[77,415.4],[81,414.86],[85,414.2],[89,413.4],[92,412.75],[97,413.0],[105,413.2],[117,413.3],[127,413.2],[137,413.0],[145,412.8],[153,412.5],[161,412.2],[170,411.8],[180,411.35],[184,411.2],[190,410.3],[196,409.1],[203,408.85],[207,408.7],[210,408.55],[211,409.0],[213,411.2],[215,414.0],[216,415.3],[218,416.0],[221,416.7],[224,417.2],[227,417.4],[231,417.5],[238,417.6],[260,417.6],[290,417.6],[300,417.5],[310,417.3],[318,417.1],[325,416.9],[335,416.6],[342,416.37],[350,416.35],[355,416.37],[365,416.5]];

const yearData = [y1913,y1914,y1915,y1916,y1917,y1918,y1919,y1920,y1921,y1922,y1923,y1924,y1925,y1926,y1927,y1928,y1929,y1930,y1931,y1932,y1933,y1934,y1935,y1936,y1937,y1938,y1939,y1940,y1941,y1942,y1943,y1944,y1945,y1946,y1947,y1948,y1949,y1950,y1951,y1952,y1953,y1954,y1955,y1956,y1957,y1958,y1959,y1960,y1961,y1962,y1963,y1964,y1965,y1966,y1967,y1968,y1969,y1970,y1971,y1972,y1973,y1974,y1975,y1976,y1977,y1978,y1979,y1980,y1981,y1982,y1983,y1984,y1985,y1986,y1987,y1988,y1989,y1990,y1991,y1992,y1993,y1994,y1995,y1996,y1997,y1998,y1999];

// ---- styles ----
const solidColors = ['#000080','#FF00FF','#FFFF00','#00FFFF','#800080','#800000','#008080','#0000FF','#00CCFF','#CCFFFF','#CCFFCC','#FFFF99','#99CCFF','#FF99CC','#CC99FF','#FFCC99','#3366FF','#33CCCC','#99CC00','#FFCC00','#FF9900','#FF6600','#666699','#969696','#003366','#339966','#003300','#333300','#993300','#993366','#333399','#000000','rgba(0,0,0,0)','#FF0000','#00FF00','#0000FF','#FFFF00','#FF00FF','#00FFFF','#800000','#008000','#000080','#808000','#800080','#008080','#C0C0C0','#808080','#9999FF','#993366','#FFFFCC','#CCFFFF','#660066','#FF8080','#0066CC','#CCCCFF'];
const dashedColors = ['#000080','#FF00FF','#FFFF00','#00FFFF','#800080','#800000','#008080','#0000FF','#00CCFF','#CCFFFF','#CCFFCC','#FFFF99','#99CCFF','#FF99CC','#CC99FF','#FFCC99','#3366FF','#33CCCC','#99CC00','#FFCC00','#FF9900','#FF6600','#666699','#969696','#003366','#339966','#003300','#333300','#993300','#993366','#333399','#000000'];

const FONT = '"Liberation Sans", Arial, sans-serif';
const dayLabels = [];
const monthStart = new Set();
let idx = 0;
monthNames.forEach((m, mi) => {
  monthStart.add(idx);
  for (let d = 1; d <= monthDays[mi]; d++) { dayLabels.push((d < 10 ? '0' : '') + d + ' ' + m); idx++; }
});
monthStart.add(idx); dayLabels.push('01 oct');

const series = yearNames.map((name, i) => {
  const dashed = i >= solidColors.length;
  const color = dashed ? dashedColors[i - solidColors.length] : solidColors[i];
  return {
    name, type: 'line', data: yearData[i], showSymbol: false, symbol: 'none',
    smooth: false, silent: true, animation: false,
    itemStyle: { color },
    lineStyle: { color, width: 1.8, type: dashed ? [10, 7] : 'solid' }
  };
});
series.push({ name: 'Moyenne', type: 'line', data: moyenne, showSymbol: false, symbol: 'none', silent: true, animation: false, z: 5,
  itemStyle: { color: '#FF0000' }, lineStyle: { color: '#FF0000', width: 4.5 } });

const allNames = yearNames.concat(['Moyenne']);
const toLegendItem = (n) => n === 'Moyenne' ? { name: n, lineStyle: { width: 5 } } : { name: n, lineStyle: { width: 2 } };
const leftNames = allNames.filter((n, i) => i % 2 === 0).map(toLegendItem);
const rightNames = allNames.filter((n, i) => i % 2 === 1).map(toLegendItem);
const legendBase = { orient: 'vertical', top: 24, itemHeight: 12, itemGap: 1.7, padding: 0, selectedMode: false,
  itemStyle: { opacity: 0 },
  textStyle: { fontSize: 20, lineHeight: 22, fontFamily: FONT, color: '#000' } };

const chart = echarts.init(document.getElementById('c'), null, { renderer: 'canvas' });
chart.setOption({
  animation: false,
  backgroundColor: '#fff',
  title: { text: 'Niveaux journaliers simulés du réservoir Pikauba\nVariante : Hmax. normal du réservoir Pikauba = 417,7 m',
    left: 927, top: 14, textAlign: 'center',
    textStyle: { fontSize: 27, fontWeight: 'bold', fontFamily: FONT, color: '#000', lineHeight: 36 } },
  legend: [
    Object.assign({}, legendBase, { data: leftNames, left: 1495, itemWidth: 69 }),
    Object.assign({}, legendBase, { data: rightNames, left: 1664, itemWidth: 70 })
  ],
  grid: { left: 141, right: 385, top: 100, bottom: 153, show: true, borderColor: '#000', borderWidth: 1, backgroundColor: 'transparent' },
  xAxis: {
    type: 'category', data: dayLabels, boundaryGap: false,
    name: 'Jour', nameLocation: 'middle', nameGap: 112,
    nameTextStyle: { fontSize: 28, fontWeight: 'bold', fontFamily: FONT, color: '#000' },
    axisLine: { show: true, lineStyle: { color: '#000', width: 2 } },
    axisTick: { show: true, length: 8, interval: (i) => monthStart.has(i), lineStyle: { color: '#000', width: 1.5 } },
    axisLabel: { interval: (i) => monthStart.has(i) && i < 365, rotate: 90, margin: 14,
      fontSize: 25, fontWeight: 'bold', fontFamily: FONT, color: '#000' },
    splitLine: { show: true, interval: (i) => monthStart.has(i) && i > 0 && i < 365, lineStyle: { color: '#8c8c8c', width: 1 } }
  },
  yAxis: {
    type: 'value', min: yTicks[0], max: yTicks[yTicks.length - 1], interval: 5,
    name: 'Niveau (m)', nameLocation: 'middle', nameGap: 70, nameRotate: 90,
    nameTextStyle: { fontSize: 26, fontWeight: 'bold', fontFamily: FONT, color: '#000' },
    axisLine: { show: true, lineStyle: { color: '#000', width: 2 } },
    axisTick: { show: true, length: 8, lineStyle: { color: '#000', width: 1.5 } },
    axisLabel: { margin: 12, fontSize: 26, fontWeight: 'bold', fontFamily: FONT, color: '#000' },
    splitLine: { show: true, lineStyle: { color: '#8c8c8c', width: 1 } }
  },
  graphic: [
    { type: 'rect', shape: { x: 6, y: 4, width: 1829, height: 1130 }, style: { fill: 'none', stroke: '#333', lineWidth: 2 }, silent: true, z: -1 },
    { type: 'rect', shape: { x: 1486, y: 15, width: 344, height: 1056 }, style: { fill: 'none', stroke: '#000', lineWidth: 1.5 }, silent: true }
  ],
  series
});
</script>
</body></html>
